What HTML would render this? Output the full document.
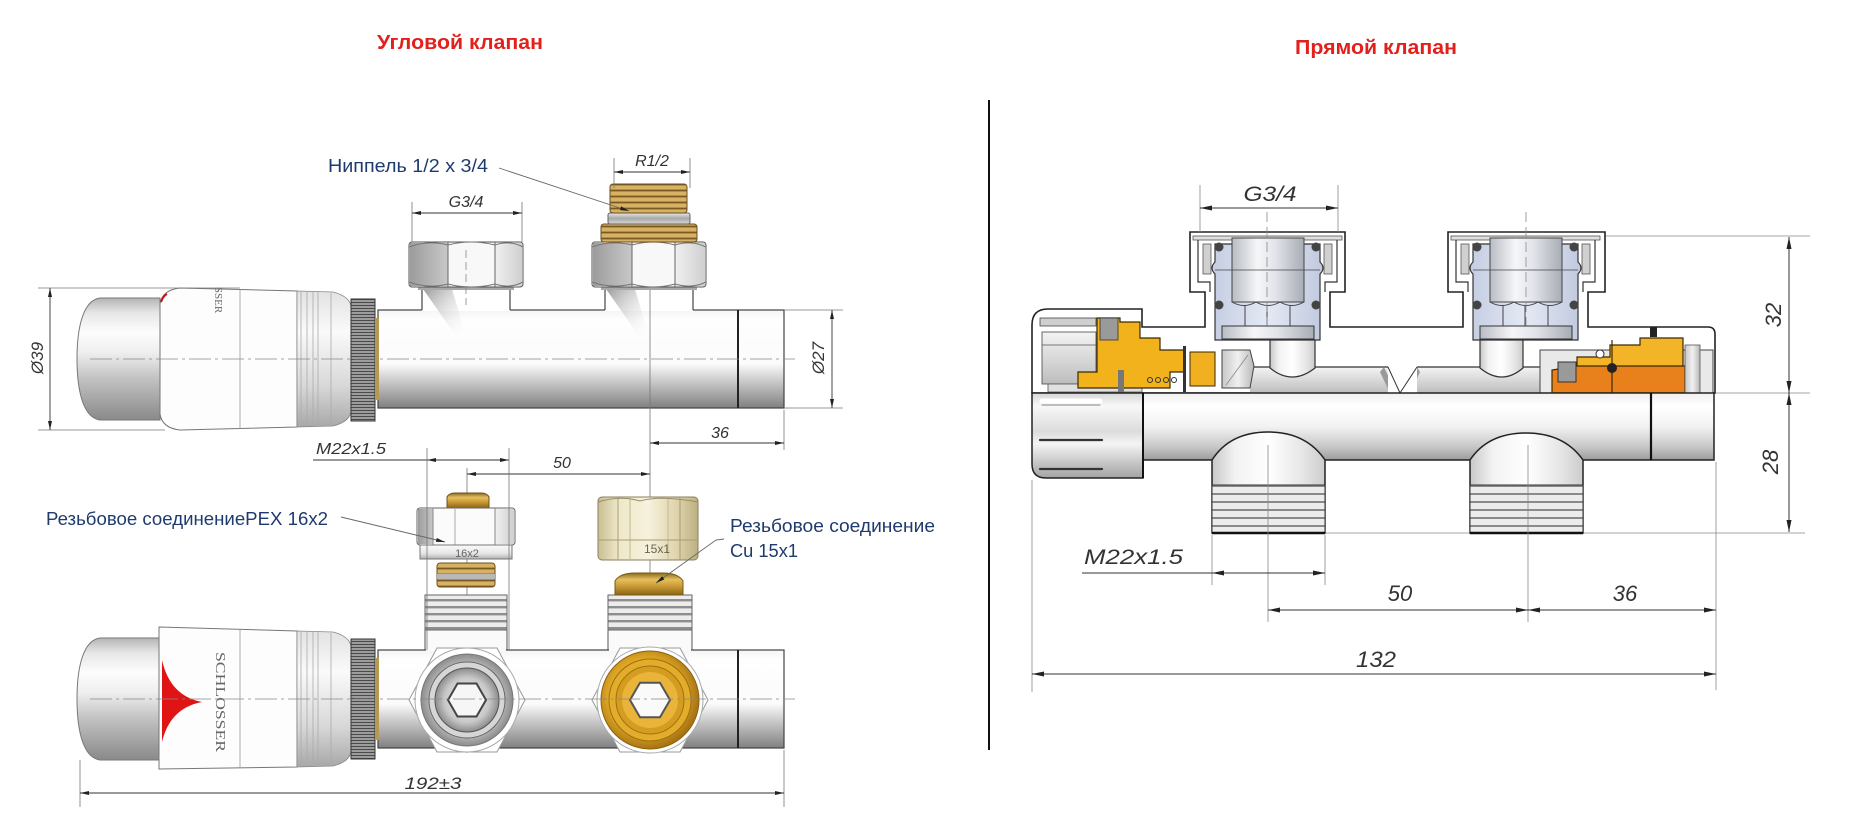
<!DOCTYPE html>
<html><head><meta charset="utf-8">
<style>html,body{margin:0;padding:0;background:#fff}svg{display:block}</style>
</head>
<body>
<svg xmlns="http://www.w3.org/2000/svg" width="1852" height="827" viewBox="0 0 1852 827">
<defs>
 <marker id="aS" viewBox="0 0 9 4" refX="9" refY="2" markerWidth="9" markerHeight="4" markerUnits="userSpaceOnUse" orient="auto-start-reverse"><path d="M0,0L9,2L0,4Z" fill="#222"/></marker>
 <marker id="aL" viewBox="0 0 12 5" refX="12" refY="2.5" markerWidth="12" markerHeight="5" markerUnits="userSpaceOnUse" orient="auto-start-reverse"><path d="M0,0L12,2.5L0,5Z" fill="#222"/></marker>
 <linearGradient id="gTube" x1="0" y1="0" x2="0" y2="1">
  <stop offset="0" stop-color="#f4f4f4"/><stop offset=".1" stop-color="#fefefe"/><stop offset=".55" stop-color="#fbfbfb"/><stop offset=".65" stop-color="#dedede"/><stop offset="1" stop-color="#808080"/>
 </linearGradient>
 <linearGradient id="gCap" x1="0" y1="0" x2="0" y2="1">
  <stop offset="0" stop-color="#b4b4b4"/><stop offset=".12" stop-color="#e6e6e6"/><stop offset=".28" stop-color="#fdfdfd"/><stop offset=".45" stop-color="#eeeeee"/><stop offset=".65" stop-color="#c4c4c4"/><stop offset=".9" stop-color="#9a9a9a"/><stop offset="1" stop-color="#8a8a8a"/>
 </linearGradient>
 <linearGradient id="gRib" x1="0" y1="0" x2="0" y2="1">
  <stop offset="0" stop-color="#e2e2e2"/><stop offset=".3" stop-color="#fafafa"/><stop offset=".7" stop-color="#d8d8d8"/><stop offset="1" stop-color="#a8a8a8"/>
 </linearGradient>
 <linearGradient id="gNutD" x1="0" y1="0" x2="1" y2="0"><stop offset="0" stop-color="#9c9c9c"/><stop offset="1" stop-color="#c8c8c8"/></linearGradient>
 <linearGradient id="gNutL" x1="0" y1="0" x2="1" y2="0"><stop offset="0" stop-color="#f0f0f0"/><stop offset="1" stop-color="#cfcfcf"/></linearGradient>
 <linearGradient id="gShade" x1="0" y1="0" x2="1" y2="1"><stop offset="0" stop-color="#9a9a9a"/><stop offset="1" stop-color="#ffffff" stop-opacity="0"/></linearGradient>
 <linearGradient id="gSilverV" x1="0" y1="0" x2="0" y2="1"><stop offset="0" stop-color="#e8e8e8"/><stop offset=".5" stop-color="#a8a8a8"/><stop offset="1" stop-color="#d8d8d8"/></linearGradient>
 <linearGradient id="gSilverH" x1="0" y1="0" x2="1" y2="0"><stop offset="0" stop-color="#b8bcc4"/><stop offset=".35" stop-color="#f6f6f8"/><stop offset=".6" stop-color="#e2e4ea"/><stop offset="1" stop-color="#a8acb4"/></linearGradient>
 <linearGradient id="gBlue" x1="0" y1="0" x2="1" y2="0"><stop offset="0" stop-color="#c4cde2"/><stop offset=".5" stop-color="#e4e9f4"/><stop offset="1" stop-color="#c0c9de"/></linearGradient>
 <linearGradient id="gBrassV" x1="0" y1="0" x2="0" y2="1"><stop offset="0" stop-color="#8a6a20"/><stop offset=".3" stop-color="#e6bf5e"/><stop offset=".6" stop-color="#c99a34"/><stop offset="1" stop-color="#8a6418"/></linearGradient>
 <linearGradient id="gCuNut" x1="0" y1="0" x2="1" y2="0"><stop offset="0" stop-color="#c9be92"/><stop offset=".2" stop-color="#eee7c8"/><stop offset=".5" stop-color="#f7f2de"/><stop offset=".8" stop-color="#ddd2aa"/><stop offset="1" stop-color="#bcb082"/></linearGradient>
 <linearGradient id="gRing" x1="0" y1="0" x2="0" y2="1"><stop offset="0" stop-color="#fafafa"/><stop offset=".6" stop-color="#e6e6e6"/><stop offset="1" stop-color="#b0b0b0"/></linearGradient>
 <linearGradient id="gTubeR" x1="0" y1="0" x2="0" y2="1"><stop offset="0" stop-color="#f0f0f0"/><stop offset=".2" stop-color="#ffffff"/><stop offset=".5" stop-color="#f2f2f2"/><stop offset=".8" stop-color="#c8c8c8"/><stop offset="1" stop-color="#9c9c9c"/></linearGradient>
 <linearGradient id="gCapR" x1="0" y1="0" x2="0" y2="1"><stop offset="0" stop-color="#d6d6d6"/><stop offset=".15" stop-color="#f8f8f8"/><stop offset=".45" stop-color="#dcdcdc"/><stop offset=".6" stop-color="#f4f4f4"/><stop offset=".85" stop-color="#c0c0c0"/><stop offset="1" stop-color="#a4a4a4"/></linearGradient>
 <linearGradient id="gOut" x1="0" y1="0" x2="1" y2="0"><stop offset="0" stop-color="#c8c8c8"/><stop offset=".2" stop-color="#f2f2f2"/><stop offset=".5" stop-color="#ffffff"/><stop offset=".8" stop-color="#e6e6e6"/><stop offset="1" stop-color="#cccccc"/></linearGradient>
 <linearGradient id="gIn" x1="0" y1="0" x2="0" y2="1"><stop offset="0" stop-color="#f4f4f4"/><stop offset="1" stop-color="#bdbdbd"/></linearGradient>
 <linearGradient id="gGrayBlk" x1="0" y1="0" x2="1" y2="0"><stop offset="0" stop-color="#c8c8c8"/><stop offset=".5" stop-color="#f0f0f0"/><stop offset="1" stop-color="#b8b8b8"/></linearGradient>
 <radialGradient id="gSil" cx=".5" cy=".5" r=".5"><stop offset="0" stop-color="#f4f4f4"/><stop offset=".7" stop-color="#c8c8c8"/><stop offset="1" stop-color="#8c8c8c"/></radialGradient>
 <radialGradient id="gGold" cx=".45" cy=".45" r=".55"><stop offset="0" stop-color="#f3c24a"/><stop offset=".7" stop-color="#dba424"/><stop offset="1" stop-color="#a87412"/></radialGradient>
 <pattern id="knurl" width="10" height="3" patternUnits="userSpaceOnUse"><rect width="10" height="3" fill="#9c9c9c"/><rect y="2" width="10" height="1" fill="#4a4a4a"/></pattern>
 <pattern id="thrB" width="10" height="6" patternUnits="userSpaceOnUse"><rect width="10" height="6" fill="#d8b264"/><rect y="3.6" width="10" height="1.8" fill="#7a5a20"/></pattern>
 <pattern id="thr" width="10" height="7" patternUnits="userSpaceOnUse"><rect width="10" height="7" fill="#ececec"/><rect y="4" width="10" height="2.4" fill="#8e8e8e"/></pattern>
 <pattern id="thrR" width="10" height="8" patternUnits="userSpaceOnUse"><rect width="10" height="8" fill="#ececec"/><rect y="5" width="10" height="2" fill="#8a8a8a"/></pattern>
</defs>

<rect width="1852" height="827" fill="#fff"/>

<!-- Titles -->
<text x="460" y="49" text-anchor="middle" font-family="Liberation Sans, sans-serif" font-weight="bold" font-size="20" fill="#e3201b" textLength="166" lengthAdjust="spacingAndGlyphs">Угловой клапан</text>
<text x="1376" y="54" text-anchor="middle" font-family="Liberation Sans, sans-serif" font-weight="bold" font-size="20" fill="#e3201b" textLength="162" lengthAdjust="spacingAndGlyphs">Прямой клапан</text>

<!-- divider -->
<line x1="989" y1="100" x2="989" y2="750" stroke="#111" stroke-width="2"/>

<!-- ================= LEFT TOP VIEW ================= -->
<g>
 <!-- tube -->
 <rect x="378" y="310" width="406" height="98" fill="url(#gTube)" stroke="#444" stroke-width="1.2"/>
 <line x1="738" y1="310" x2="738" y2="408" stroke="#222" stroke-width="2"/>
 <!-- necks -->
 <rect x="422" y="287" width="88" height="24" fill="#fff"/>
 <polygon points="423,289 452,289 466,336 456,336" fill="url(#gShade)"/>
 <line x1="422" y1="287" x2="422" y2="310" stroke="#444" stroke-width="1.2"/>
 <line x1="510" y1="287" x2="510" y2="310" stroke="#444" stroke-width="1.2"/>
 <rect x="605" y="287" width="88" height="24" fill="#fff"/>
 <polygon points="606,289 635,289 649,336 639,336" fill="url(#gShade)"/>
 <line x1="605" y1="287" x2="605" y2="310" stroke="#444" stroke-width="1.2"/>
 <line x1="693" y1="287" x2="693" y2="310" stroke="#444" stroke-width="1.2"/>

 <!-- left nut -->
 <rect x="418" y="286" width="96" height="4" fill="#a8a8a8"/>
 <rect x="409" y="242" width="114" height="45" rx="3" fill="#f8f8f8" stroke="#555"/>
 <rect x="410" y="243" width="38" height="43" fill="url(#gNutD)"/>
 <rect x="495" y="243" width="27" height="43" fill="url(#gNutL)"/>
 <line x1="448" y1="242" x2="448" y2="287" stroke="#666"/>
 <line x1="495" y1="242" x2="495" y2="287" stroke="#666"/>
 <path d="M409,247 Q428,240 448,245 Q471,239 495,245 Q510,240 523,247" fill="none" stroke="#777"/>
 <path d="M409,282 Q428,289 448,284 Q471,290 495,284 Q510,289 523,282" fill="none" stroke="#777"/>

 <!-- right nut + nipple -->
 <rect x="601" y="286" width="96" height="4" fill="#a8a8a8"/>
 <rect x="592" y="242" width="114" height="45" rx="3" fill="#f8f8f8" stroke="#555"/>
 <rect x="593" y="243" width="39" height="43" fill="url(#gNutD)"/>
 <rect x="675" y="243" width="30" height="43" fill="url(#gNutL)"/>
 <line x1="632" y1="242" x2="632" y2="287" stroke="#666"/>
 <line x1="675" y1="242" x2="675" y2="287" stroke="#666"/>
 <path d="M592,247 Q611,240 632,245 Q653,239 675,245 Q692,240 706,247" fill="none" stroke="#777"/>
 <path d="M592,282 Q611,289 632,284 Q653,290 675,284 Q692,289 706,282" fill="none" stroke="#777"/>
 <rect x="601" y="224" width="96" height="18" rx="3" fill="url(#thrB)" stroke="#6a5020"/>
 <rect x="608" y="213" width="82" height="11" rx="2" fill="url(#gSilverV)" stroke="#666"/>
 <rect x="610" y="184" width="77" height="29" rx="3" fill="url(#thrB)" stroke="#6a5020"/>

 <!-- thermostat head top -->
 <path d="M160,298 L100,298 C84,300 77,325 77,359 C77,393 84,418 100,420 L160,420 Z" fill="url(#gCap)" stroke="#777"/>
 <path d="M160,304 Q162,290 180,288 L297,291 L297,427 L180,430 Q162,428 160,414 Z" fill="#fdfdfd" stroke="#777"/>
 <path d="M161,302 Q163,296 167,294" fill="none" stroke="#d01010" stroke-width="2"/>
 <line x1="240" y1="289" x2="240" y2="429" stroke="#999" stroke-width=".8"/>
 <text transform="translate(219,300) rotate(90)" text-anchor="middle" dy="4" font-family="Liberation Serif, serif" font-size="11" fill="#666">SSER</text>
 <path d="M297,291 L333,292 Q349,296 351,306 L351,412 Q349,422 333,426 L297,427 Z" fill="url(#gRib)" stroke="#888" stroke-width=".8"/>
 <g stroke="#aaa" stroke-width=".8"><line x1="301" y1="292" x2="301" y2="426"/><line x1="307" y1="292" x2="307" y2="426"/><line x1="313" y1="292" x2="313" y2="426"/><line x1="318" y1="292" x2="318" y2="426"/><line x1="331" y1="293" x2="331" y2="425"/></g>
 <rect x="351" y="299" width="24" height="122" fill="url(#knurl)" stroke="#333"/>
 <rect x="375" y="318" width="4" height="82" fill="#b39a50"/>

 <!-- centerlines -->
 <line x1="90" y1="359" x2="795" y2="359" stroke="#888" stroke-width=".8" stroke-dasharray="22 4 3 4"/>
 <line x1="466" y1="250" x2="466" y2="305" stroke="#888" stroke-width=".8" stroke-dasharray="8 4"/>

 <!-- dims -->
 <line x1="38" y1="288" x2="240" y2="288" stroke="#777" stroke-width=".8"/>
 <line x1="38" y1="430" x2="165" y2="430" stroke="#777" stroke-width=".8"/>
 <line x1="50" y1="288" x2="50" y2="430" stroke="#333" stroke-width=".9" marker-start="url(#aS)" marker-end="url(#aS)"/>
 <text transform="translate(37,358) rotate(-90)" text-anchor="middle" dy="6" font-family="Liberation Sans, sans-serif" font-style="italic" font-size="17" fill="#333">Ø39</text>

 <line x1="784" y1="310" x2="843" y2="310" stroke="#777" stroke-width=".8"/>
 <line x1="784" y1="408" x2="843" y2="408" stroke="#777" stroke-width=".8"/>
 <line x1="832" y1="310" x2="832" y2="408" stroke="#333" stroke-width=".9" marker-start="url(#aS)" marker-end="url(#aS)"/>
 <text transform="translate(818,358) rotate(-90)" text-anchor="middle" dy="6" font-family="Liberation Sans, sans-serif" font-style="italic" font-size="17" fill="#333">Ø27</text>

 <line x1="412" y1="202" x2="412" y2="242" stroke="#777" stroke-width=".8"/>
 <line x1="522" y1="202" x2="522" y2="242" stroke="#777" stroke-width=".8"/>
 <line x1="412" y1="213" x2="522" y2="213" stroke="#333" stroke-width=".9" marker-start="url(#aS)" marker-end="url(#aS)"/>
 <text x="466" y="207" text-anchor="middle" font-family="Liberation Sans, sans-serif" font-style="italic" font-size="16" fill="#333">G3/4</text>

 <line x1="614" y1="158" x2="614" y2="188" stroke="#777" stroke-width=".8"/>
 <line x1="690" y1="158" x2="690" y2="188" stroke="#777" stroke-width=".8"/>
 <line x1="614" y1="172" x2="690" y2="172" stroke="#333" stroke-width=".9" marker-start="url(#aS)" marker-end="url(#aS)"/>
 <text x="652" y="166" text-anchor="middle" font-family="Liberation Sans, sans-serif" font-style="italic" font-size="16" fill="#333">R1/2</text>

 <text x="328" y="172" font-family="Liberation Sans, sans-serif" font-size="18" fill="#1e3a6e" textLength="160" lengthAdjust="spacingAndGlyphs">Ниппель 1/2 x 3/4</text>
 <line x1="499" y1="168" x2="629" y2="211" stroke="#666" stroke-width=".9" marker-end="url(#aS)"/>
</g>

<!-- shared vertical extension lines across left views -->
<line x1="650" y1="290" x2="650" y2="753" stroke="#777" stroke-width=".8"/>
<line x1="467" y1="468" x2="467" y2="753" stroke="#777" stroke-width=".8"/>
<line x1="784" y1="410" x2="784" y2="450" stroke="#777" stroke-width=".8"/>

<!-- dims between views -->
<line x1="650" y1="443" x2="784" y2="443" stroke="#333" stroke-width=".9" marker-start="url(#aS)" marker-end="url(#aS)"/>
<text x="720" y="438" text-anchor="middle" font-family="Liberation Sans, sans-serif" font-style="italic" font-size="16" fill="#333">36</text>
<text x="351" y="454" text-anchor="middle" font-family="Liberation Sans, sans-serif" font-style="italic" font-size="16" fill="#333" textLength="70" lengthAdjust="spacingAndGlyphs">M22x1.5</text>
<line x1="313" y1="460" x2="427" y2="460" stroke="#333" stroke-width=".9"/>
<line x1="427" y1="460" x2="509" y2="460" stroke="#333" stroke-width=".9" marker-start="url(#aS)" marker-end="url(#aS)"/>
<line x1="467" y1="474" x2="650" y2="474" stroke="#333" stroke-width=".9" marker-start="url(#aS)" marker-end="url(#aS)"/>
<text x="562" y="468" text-anchor="middle" font-family="Liberation Sans, sans-serif" font-style="italic" font-size="16" fill="#333">50</text>

<!-- ================= LEFT BOTTOM VIEW ================= -->
<g>
 <!-- necks -->
 <rect x="425" y="595" width="82" height="56" fill="#fafafa" stroke="#555"/>
 <rect x="425" y="595" width="82" height="35" fill="url(#thr)" stroke="#666"/>
 <rect x="608" y="595" width="84" height="56" fill="#fafafa" stroke="#555"/>
 <rect x="608" y="595" width="84" height="35" fill="url(#thr)" stroke="#666"/>

 <!-- tube -->
 <rect x="378" y="650" width="406" height="98" fill="url(#gTube)" stroke="#444" stroke-width="1.2"/>
 <line x1="738" y1="650" x2="738" y2="748" stroke="#222" stroke-width="2"/>
 <line x1="426" y1="650" x2="506" y2="650" stroke="#fafafa" stroke-width="2"/>
 <line x1="609" y1="650" x2="691" y2="650" stroke="#fafafa" stroke-width="2"/>

 <!-- PEX fitting -->
 <path d="M447,508 L447,497 Q449,493 455,493 L481,493 Q487,493 489,497 L489,508 Z" fill="url(#gBrassV)" stroke="#6a5020"/>
 <rect x="417" y="508" width="98" height="37" rx="3" fill="#fbfbfb" stroke="#666"/>
 <rect x="418" y="509" width="15" height="35" fill="url(#gNutD)"/>
 <rect x="495" y="509" width="19" height="35" fill="url(#gNutL)"/>
 <line x1="433" y1="508" x2="433" y2="545" stroke="#888"/>
 <line x1="455" y1="508" x2="455" y2="545" stroke="#aaa"/>
 <line x1="495" y1="508" x2="495" y2="545" stroke="#888"/>
 <rect x="420" y="545" width="92" height="14" fill="url(#gRing)" stroke="#777"/>
 <text x="467" y="557" text-anchor="middle" font-family="Liberation Sans, sans-serif" font-size="11" fill="#666">16x2</text>
 <rect x="437" y="563" width="58" height="24" rx="3" fill="url(#thrB)" stroke="#6a5020"/>
 <rect x="437" y="574" width="58" height="5" fill="#b8b8b8"/>

 <!-- Cu fitting -->
 <rect x="598" y="497" width="100" height="63" rx="4" fill="url(#gCuNut)" stroke="#8a8060"/>
 <line x1="618" y1="497" x2="618" y2="560" stroke="#a89c74"/>
 <line x1="630" y1="497" x2="630" y2="560" stroke="#c4b890"/>
 <line x1="668" y1="497" x2="668" y2="560" stroke="#c4b890"/>
 <line x1="680" y1="497" x2="680" y2="560" stroke="#a89c74"/>
 <path d="M598,502 Q620,495 640,501 Q660,495 698,502" fill="none" stroke="#9a8e64"/>
 <line x1="598" y1="540" x2="698" y2="540" stroke="#a89c74"/>
 <text x="657" y="553" text-anchor="middle" font-family="Liberation Sans, sans-serif" font-size="12" fill="#6a6450">15x1</text>
 <path d="M615,595 L615,581 Q620,573 635,573 L663,573 Q678,573 683,581 L683,595 Z" fill="url(#gBrassV)" stroke="#7a5a10"/>

 <!-- outlet end views -->
 <polygon points="525,700 497,752 437,752 409,700 437,648 497,648" fill="#fff" stroke="#999"/>
 <circle cx="467" cy="700" r="52" fill="#fff" stroke="#aaa"/>
 <circle cx="467" cy="700" r="46" fill="url(#gSil)" stroke="#777"/>
 <circle cx="467" cy="700" r="38" fill="#d6d6d6" stroke="#666"/>
 <circle cx="467" cy="700" r="32" fill="url(#gSil)" stroke="#555"/>
 <polygon points="486,700 476.5,716.5 457.5,716.5 448,700 457.5,683.5 476.5,683.5" fill="#f6f6f6" stroke="#444" stroke-width="2"/>

 <polygon points="708,700 680,752 620,752 592,700 620,648 680,648" fill="#fff" stroke="#999"/>
 <circle cx="650" cy="700" r="53" fill="#fff" stroke="#aaa"/>
 <circle cx="650" cy="700" r="49" fill="url(#gGold)" stroke="#8a6010"/>
 <circle cx="650" cy="700" r="41" fill="#e3ad2c" stroke="#a07010"/>
 <circle cx="650" cy="700" r="34" fill="#d49c20" stroke="#a07010"/>
 <circle cx="650" cy="700" r="28" fill="#eab43a"/>
 <polygon points="670,700 660,717.3 640,717.3 630,700 640,682.7 660,682.7" fill="#fafafa" stroke="#555" stroke-width="2"/>

 <!-- thermostat head bottom -->
 <path d="M160,638 L100,638 C84,640 77,665 77,699 C77,733 84,758 100,760 L160,760 Z" fill="url(#gCap)" stroke="#777"/>
 <path d="M159,627 L297,631 L297,767 L159,769 Z" fill="#fdfdfd" stroke="#777"/>
 <path d="M162,660 Q170,696 202,702 Q170,708 162,742 Z" fill="#e01414"/>
 <line x1="240" y1="629" x2="240" y2="768" stroke="#999" stroke-width=".8"/>
 <text transform="translate(221,702) rotate(90)" text-anchor="middle" dy="5" font-family="Liberation Serif, serif" font-size="14" fill="#666" textLength="100" lengthAdjust="spacingAndGlyphs">SCHLOSSER</text>
 <path d="M297,631 L333,632 Q349,636 351,646 L351,752 Q349,762 333,766 L297,767 Z" fill="url(#gRib)" stroke="#888" stroke-width=".8"/>
 <g stroke="#aaa" stroke-width=".8"><line x1="301" y1="632" x2="301" y2="766"/><line x1="307" y1="632" x2="307" y2="766"/><line x1="313" y1="632" x2="313" y2="766"/><line x1="318" y1="632" x2="318" y2="766"/><line x1="331" y1="633" x2="331" y2="765"/></g>
 <rect x="351" y="639" width="24" height="120" fill="url(#knurl)" stroke="#333"/>
 <rect x="375" y="658" width="4" height="82" fill="#b39a50"/>

 <line x1="90" y1="699" x2="795" y2="699" stroke="#888" stroke-width=".8" stroke-dasharray="22 4 3 4"/>

 <!-- extension lines through fittings -->
 <line x1="427" y1="448" x2="427" y2="650" stroke="#777" stroke-width=".8"/>
 <line x1="509" y1="448" x2="509" y2="650" stroke="#777" stroke-width=".8"/>

 <!-- labels -->
 <text x="46" y="525" font-family="Liberation Sans, sans-serif" font-size="18" fill="#1e3a6e" textLength="282" lengthAdjust="spacingAndGlyphs">Резьбовое соединениеPEX 16x2</text>
 <line x1="341" y1="517" x2="445" y2="542" stroke="#666" stroke-width=".9" marker-end="url(#aS)"/>
 <text x="730" y="532" font-family="Liberation Sans, sans-serif" font-size="18" fill="#1e3a6e" textLength="205" lengthAdjust="spacingAndGlyphs">Резьбовое соединение</text>
 <text x="730" y="557" font-family="Liberation Sans, sans-serif" font-size="18" fill="#1e3a6e" textLength="68" lengthAdjust="spacingAndGlyphs">Cu 15x1</text>
 <polyline points="724,539 716,540 656,583" fill="none" stroke="#666" stroke-width=".9" marker-end="url(#aS)"/>

 <!-- 192 dim -->
 <line x1="80" y1="760" x2="80" y2="807" stroke="#777" stroke-width=".8"/>
 <line x1="784" y1="750" x2="784" y2="807" stroke="#777" stroke-width=".8"/>
 <line x1="80" y1="793" x2="784" y2="793" stroke="#333" stroke-width=".9" marker-start="url(#aS)" marker-end="url(#aS)"/>
 <text x="433" y="789" text-anchor="middle" font-family="Liberation Sans, sans-serif" font-style="italic" font-size="17" fill="#333" textLength="57" lengthAdjust="spacingAndGlyphs">192±3</text>
</g>

<!-- ================= RIGHT VIEW ================= -->
<g>
 <!-- extension lines behind -->
 <line x1="1605" y1="236" x2="1810" y2="236" stroke="#888" stroke-width=".8"/>
 <line x1="1715" y1="393" x2="1810" y2="393" stroke="#888" stroke-width=".8"/>
 <line x1="1325" y1="533" x2="1805" y2="533" stroke="#888" stroke-width=".8"/>

 <!-- upper section outline -->
 <path d="M1032,393 L1032,325 Q1032,309 1048,309 L1142,309 L1142,327 L1205,327 L1205,292 L1190,292 L1190,232 L1345,232 L1345,292 L1330,292 L1330,327 L1463,327 L1463,292 L1448,292 L1448,232 L1605,232 L1605,292 L1588,292 L1588,327 L1708,327 Q1715,327 1715,334 L1715,393 Z" fill="#fff" stroke="#222" stroke-width="1.6"/>

 <!-- tube interior -->
 <rect x="1250" y="367" width="290" height="26" fill="url(#gIn)"/>
 <line x1="1250" y1="367" x2="1388" y2="367" stroke="#333" stroke-width="1.2"/>
 <line x1="1417" y1="367" x2="1540" y2="367" stroke="#333" stroke-width="1.2"/>
 <path d="M1384,367 L1396,393 L1390,393 L1380,372 Z" fill="#9a9a9a"/>
 <path d="M1417,367 L1404,393 L1410,393 L1420,372 Z" fill="#9a9a9a"/>
 <rect x="1388" y="367" width="29" height="26" fill="#fff"/>
 <path d="M1388,367 L1400,393 L1417,367" fill="none" stroke="#333" stroke-width="1"/>
 <!-- channels -->
 <path d="M1270,338 L1270,368 Q1292,386 1315,368 L1315,338 Z" fill="url(#gOut)" stroke="#333" stroke-width="1.2"/>
 <path d="M1480,338 L1480,368 Q1502,386 1523,368 L1523,338 Z" fill="url(#gOut)" stroke="#333" stroke-width="1.2"/>

 <!-- fitting -->
 <g id="fit">
  <rect x="1193" y="236" width="149" height="4" fill="#e0e0e0" stroke="#555" stroke-width=".8"/>
  <path d="M1198,240 L1198,282 L1210,282 L1210,292" fill="none" stroke="#333" stroke-width="1.2"/>
  <path d="M1337,240 L1337,282 L1325,282 L1325,292" fill="none" stroke="#333" stroke-width="1.2"/>
  <rect x="1203" y="244" width="8" height="30" fill="#d0d0d0" stroke="#555" stroke-width=".8"/>
  <rect x="1324" y="244" width="8" height="30" fill="#d0d0d0" stroke="#555" stroke-width=".8"/>
  <path d="M1215,244 L1320,244 L1320,262 Q1326,268 1320,274 L1320,340 L1215,340 L1215,274 Q1209,268 1215,262 Z" fill="url(#gBlue)" stroke="#333" stroke-width="1.2"/>
  <rect x="1232" y="238" width="72" height="64" fill="url(#gSilverH)" stroke="#444"/>
  <line x1="1215" y1="270" x2="1320" y2="270" stroke="#444" stroke-width=".8"/>
  <path d="M1232,302 Q1244,309 1256,302 Q1268,309 1280,302 Q1292,309 1304,302" fill="none" stroke="#444"/>
  <line x1="1245" y1="305" x2="1245" y2="326" stroke="#444"/>
  <line x1="1267" y1="306" x2="1267" y2="326" stroke="#444"/>
  <line x1="1290" y1="305" x2="1290" y2="326" stroke="#444"/>
  <rect x="1222" y="326" width="92" height="13" fill="url(#gSilverH)" stroke="#333"/>
  <circle cx="1219" cy="247" r="4.5" fill="#444"/>
  <circle cx="1316" cy="247" r="4.5" fill="#444"/>
  <circle cx="1219" cy="305" r="4.5" fill="#444"/>
  <circle cx="1316" cy="305" r="4.5" fill="#444"/>
 </g>
 <use href="#fit" transform="translate(258,0)"/>

 <!-- left mechanism -->
 <rect x="1040" y="318" width="56" height="8" fill="#cfcfcf" stroke="#444" stroke-width=".8"/>
 <rect x="1042" y="332" width="54" height="52" fill="url(#gIn)" stroke="#444" stroke-width=".8"/>
 <line x1="1042" y1="345" x2="1096" y2="345" stroke="#555" stroke-width=".8"/>
 <rect x="1048" y="384" width="94" height="8" fill="#e0e0e0" stroke="#555" stroke-width=".8"/>
 <path d="M1097,318 L1120,318 L1120,322 L1140,322 L1140,338 L1160,338 L1160,350 L1185,350 L1185,372 L1170,372 L1170,388 L1078,388 L1078,372 L1097,372 Z" fill="#f2b21c" stroke="#3a2a00" stroke-width="1.2"/>
 <rect x="1100" y="318" width="18" height="22" fill="#9a9a9a" stroke="#333" stroke-width=".8"/>
 <rect x="1190" y="352" width="25" height="34" fill="#f0b020" stroke="#3a2a00"/>
 <rect x="1118" y="370" width="6" height="22" fill="#777"/>
 <rect x="1183" y="346" width="3" height="46" fill="#333"/>
 <g fill="none" stroke="#333" stroke-width="1"><circle cx="1150" cy="380" r="2.5"/><circle cx="1158" cy="380" r="2.5"/><circle cx="1166" cy="380" r="2.5"/><circle cx="1174" cy="380" r="2.5"/></g>
 <path d="M1222,350 L1250,350 L1254,366 L1250,388 L1222,388 Z" fill="url(#gGrayBlk)" stroke="#444"/>
 <line x1="1226" y1="385" x2="1248" y2="355" stroke="#888" stroke-width=".8"/>

 <!-- right mechanism -->
 <rect x="1540" y="350" width="173" height="43" fill="#e9e9e9" stroke="#444"/>
 <path d="M1577,357 L1610,357 L1610,345 L1640,345 L1640,338 L1683,338 L1683,368 L1577,368 Z" fill="#f4b428" stroke="#3a2a00" stroke-width="1.2"/>
 <path d="M1552,393 L1552,370 L1577,366 L1685,366 L1685,393 Z" fill="#e8801c" stroke="#3a2a00" stroke-width="1.2"/>
 <line x1="1612" y1="340" x2="1612" y2="393" stroke="#3a2a00" stroke-width="1.2"/>
 <rect x="1558" y="362" width="18" height="20" fill="#9a9a9a" stroke="#333"/>
 <circle cx="1612" cy="368" r="5" fill="#222"/>
 <circle cx="1600" cy="354" r="4" fill="#fff" stroke="#333"/>
 <rect x="1650" y="327" width="7" height="10" fill="#222"/>
 <rect x="1685" y="345" width="15" height="48" fill="url(#gGrayBlk)" stroke="#555" stroke-width=".8"/>

 <!-- main tube -->
 <rect x="1143" y="393" width="571" height="67" fill="url(#gTubeR)" stroke="#222" stroke-width="1.5"/>
 <line x1="1651" y1="393" x2="1651" y2="460" stroke="#111" stroke-width="2.2"/>
 <!-- left cap lower -->
 <path d="M1032,393 L1143,393 L1143,478 L1046,478 Q1032,478 1032,464 Z" fill="url(#gCapR)" stroke="#222" stroke-width="1.5"/>
 <line x1="1143" y1="393" x2="1143" y2="478" stroke="#111" stroke-width="2"/>
 <g stroke-linecap="round"><line x1="1042" y1="401" x2="1100" y2="401" stroke="#fff" stroke-width="5"/><line x1="1042" y1="405" x2="1100" y2="405" stroke="#999" stroke-width="1.2"/><line x1="1040" y1="440" x2="1102" y2="440" stroke="#333" stroke-width="2.2"/><line x1="1040" y1="469" x2="1102" y2="469" stroke="#333" stroke-width="2.2"/></g>

 <!-- outlets -->
 <path d="M1212,533 L1212,460 Q1230,432 1268,432 Q1306,432 1325,460 L1325,533 Z" fill="url(#gOut)" stroke="#222" stroke-width="1.5"/>
 <rect x="1212" y="485" width="113" height="48" fill="url(#thrR)" stroke="#333"/>
 <line x1="1212" y1="533" x2="1325" y2="533" stroke="#111" stroke-width="2.5"/>
 <path d="M1470,533 L1470,460 Q1488,433 1526,433 Q1564,433 1583,460 L1583,533 Z" fill="url(#gOut)" stroke="#222" stroke-width="1.5"/>
 <rect x="1470" y="485" width="113" height="48" fill="url(#thrR)" stroke="#333"/>
 <line x1="1470" y1="533" x2="1583" y2="533" stroke="#111" stroke-width="2.5"/>

 <!-- centerlines -->
 <line x1="1267" y1="212" x2="1267" y2="330" stroke="#888" stroke-width=".8" stroke-dasharray="10 5"/>
 <line x1="1526" y1="212" x2="1526" y2="330" stroke="#888" stroke-width=".8" stroke-dasharray="10 5"/>
 <line x1="1268" y1="445" x2="1268" y2="622" stroke="#888" stroke-width=".8"/>
 <line x1="1528" y1="445" x2="1528" y2="622" stroke="#888" stroke-width=".8"/>

 <!-- extension lines -->
 <line x1="1200" y1="185" x2="1200" y2="232" stroke="#888" stroke-width=".8"/>
 <line x1="1338" y1="185" x2="1338" y2="232" stroke="#888" stroke-width=".8"/>
 <line x1="1032" y1="480" x2="1032" y2="692" stroke="#888" stroke-width=".8"/>
 <line x1="1212" y1="535" x2="1212" y2="585" stroke="#888" stroke-width=".8"/>
 <line x1="1325" y1="535" x2="1325" y2="585" stroke="#888" stroke-width=".8"/>
 <line x1="1716" y1="462" x2="1716" y2="690" stroke="#888" stroke-width=".8"/>

 <!-- dims -->
 <line x1="1200" y1="208" x2="1338" y2="208" stroke="#333" stroke-width="1" marker-start="url(#aL)" marker-end="url(#aL)"/>
 <text x="1270" y="201" text-anchor="middle" font-family="Liberation Sans, sans-serif" font-style="italic" font-size="21" fill="#333" textLength="53" lengthAdjust="spacingAndGlyphs">G3/4</text>

 <line x1="1789" y1="237" x2="1789" y2="393" stroke="#333" stroke-width="1" marker-start="url(#aL)" marker-end="url(#aL)"/>
 <line x1="1789" y1="393" x2="1789" y2="532" stroke="#333" stroke-width="1" marker-start="url(#aL)" marker-end="url(#aL)"/>
 <text transform="translate(1773,315) rotate(-90)" text-anchor="middle" dy="8" font-family="Liberation Sans, sans-serif" font-style="italic" font-size="22" fill="#333">32</text>
 <text transform="translate(1770,462) rotate(-90)" text-anchor="middle" dy="8" font-family="Liberation Sans, sans-serif" font-style="italic" font-size="22" fill="#333">28</text>

 <text x="1084" y="564" font-family="Liberation Sans, sans-serif" font-style="italic" font-size="21" fill="#333" textLength="99" lengthAdjust="spacingAndGlyphs">M22x1.5</text>
 <line x1="1082" y1="573" x2="1212" y2="573" stroke="#333" stroke-width="1"/>
 <line x1="1212" y1="573" x2="1325" y2="573" stroke="#333" stroke-width="1" marker-start="url(#aL)" marker-end="url(#aL)"/>

 <line x1="1268" y1="610" x2="1528" y2="610" stroke="#333" stroke-width="1" marker-start="url(#aL)" marker-end="url(#aL)"/>
 <line x1="1528" y1="610" x2="1716" y2="610" stroke="#333" stroke-width="1" marker-start="url(#aL)" marker-end="url(#aL)"/>
 <text x="1400" y="601" text-anchor="middle" font-family="Liberation Sans, sans-serif" font-style="italic" font-size="22" fill="#333">50</text>
 <text x="1625" y="601" text-anchor="middle" font-family="Liberation Sans, sans-serif" font-style="italic" font-size="22" fill="#333">36</text>

 <line x1="1032" y1="674" x2="1716" y2="674" stroke="#333" stroke-width="1" marker-start="url(#aL)" marker-end="url(#aL)"/>
 <text x="1376" y="667" text-anchor="middle" font-family="Liberation Sans, sans-serif" font-style="italic" font-size="22" fill="#333" textLength="40" lengthAdjust="spacingAndGlyphs">132</text>
</g>
</svg>
</body>
</html>
